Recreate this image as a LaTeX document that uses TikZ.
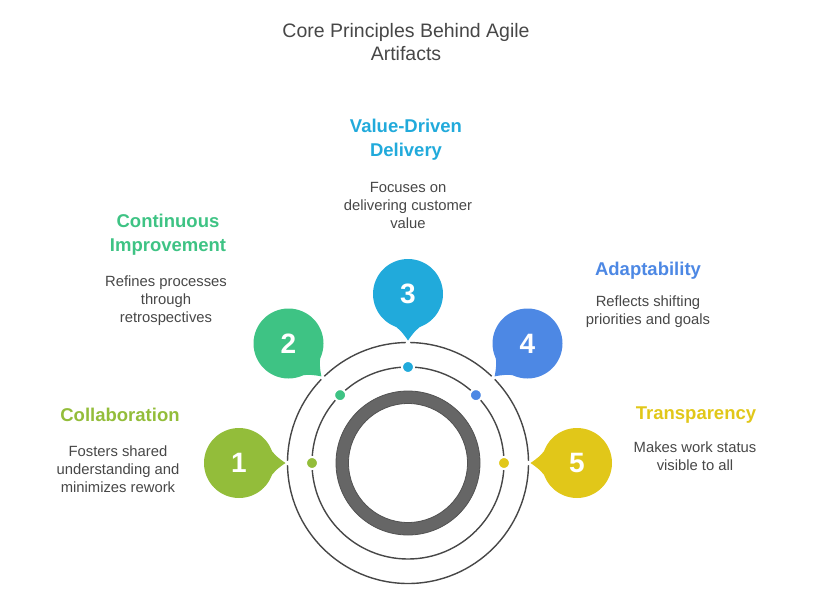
\documentclass[tikz,border=0pt]{standalone}
\usepackage{fontspec}
\setmainfont{Liberation Sans}
\usetikzlibrary{calc}

\definecolor{cOne}{HTML}{93BD3A}
\definecolor{cTwo}{HTML}{3EC384}
\definecolor{cThree}{HTML}{21AADB}
\definecolor{cFour}{HTML}{4D88E4}
\definecolor{cFive}{HTML}{E1C719}
\definecolor{ink}{HTML}{474747}
\definecolor{ringgray}{HTML}{666666}

\begin{document}
\begin{tikzpicture}[x=1pt, y=-1pt,
    badge/.style={circle, minimum size=70pt, inner sep=0pt, text=white,
        font=\fontsize{28}{28}\selectfont\bfseries},
    head/.style={align=center, inner sep=0pt, font=\fontsize{18.5}{24}\selectfont\bfseries},
    body/.style={align=center, inner sep=0pt, text=ink, font=\fontsize{14.8}{18}\selectfont},
    dot/.style={circle, minimum size=12pt, inner sep=0pt, draw=white, line width=2pt}]

    \useasboundingbox (0,0) rectangle (816,608);

    \coordinate (O) at (408,463);

    % the rings
    \draw[ink, line width=1.4pt] (O) circle (120.5pt);
    \draw[ink, line width=1.4pt] (O) circle (96pt);
    \fill[ringgray, even odd rule] (O) circle (72pt) (O) circle (59.5pt);
    \draw[ringgray!80!black, line width=0.8pt] (O) circle (72pt) (O) circle (59.5pt);

    % badges, tails and dots
    \foreach \a/\c/\n in {180/cOne/1, 135/cTwo/2, 90/cThree/3, 45/cFour/4, 0/cFive/5} {
        \node[dot, fill=\c] (d\n) at ($(O)+(\a:96pt)$) {};
        \fill[white] ($(O)+(\a:120.5pt)$) circle (2.2pt);
        \node[badge, fill=\c] (b\n) at ($(O)+(\a:169pt)$) {\n};
        \coordinate (t\n) at ($(b\n)+(\a+180:46.5pt)$);
        \fill[\c] ($(b\n)+(\a+150:33pt)$) .. controls ($(b\n)+(\a+172:39pt)$) .. (t\n)
            .. controls ($(b\n)+(\a+188:39pt)$) .. ($(b\n)+(\a+210:33pt)$) -- cycle;
    }

    \node[align=center, inner sep=0pt, text=ink, font=\fontsize{19.5}{23}\selectfont]
        (title) at (406,42.5) {Core Principles Behind Agile\\Artifacts};

    \node[head, text=cThree] (h3) at (406,140) {Value-Driven\\Delivery};
    \node[body] (p3) at (408,205) {Focuses on\\delivering customer\\value};

    \node[head, text=cTwo] (h2) at (168,235) {Continuous\\Improvement};
    \node[body] (p2) at (166,301) {Refines processes\\through\\retrospectives};

    \node[head, text=cFour] (h4) at (648,271) {Adaptability};
    \node[body] (p4) at (648,312) {Reflects shifting\\priorities and goals};

    \node[head, text=cOne] (h1) at (120,415) {Collaboration};
    \node[body] (p1) at (118,469) {Fosters shared\\understanding and\\minimizes rework};

    \node[head, text=cFive] (h5) at (696,415) {Transparency};
    \node[body] (p5) at (695,456) {Makes work status\\visible to all};
\end{tikzpicture}
\end{document}
